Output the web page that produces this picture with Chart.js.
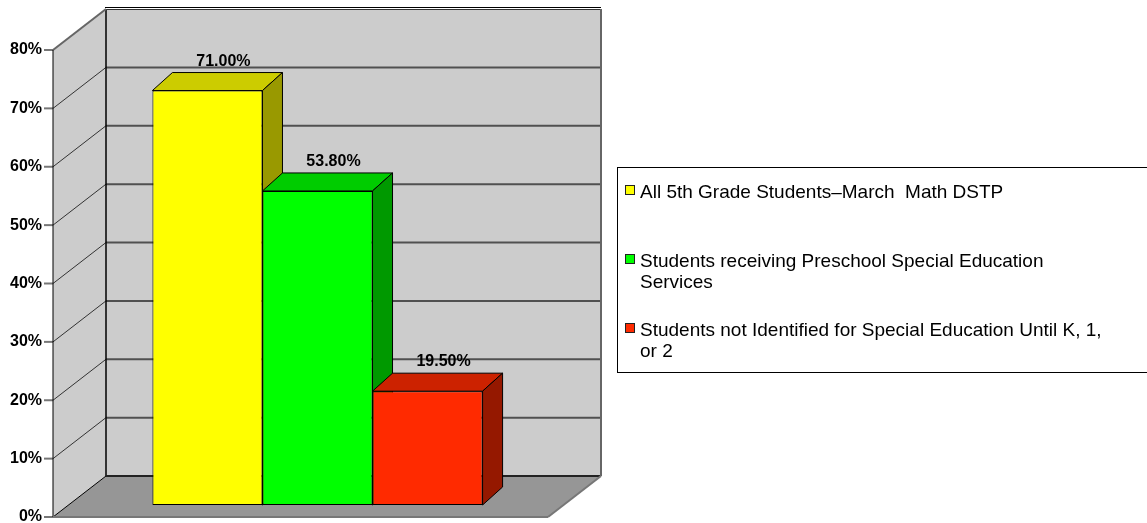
<!DOCTYPE html>
<html>
<head>
<meta charset="utf-8">
<script src="https://cdn.jsdelivr.net/npm/chart.js@4.4.1/dist/chart.umd.min.js"></script>
<style>
  html, body { margin: 0; padding: 0; background: #fff; }
  #wrap { width: 1147px; height: 523px; }
</style>
</head>
<body>
<div id="wrap"><canvas id="myChart" width="1147" height="523"></canvas></div>
<script>
// series names, one entry per line of legend text
const seriesNames = [
  ['All 5th Grade Students\u2013March  Math DSTP'],
  ['Students receiving Preschool Special Education', 'Services'],
  ['Students not Identified for Special Education Until K, 1,', 'or 2']
];
const seriesValues = [71.0, 53.8, 19.5];
const frontColors = ['#ffff00', '#00ff00', '#ff2a00'];
const topColors = ['#cccc00', '#00cc00', '#cc2200'];
const sideColors = ['#999900', '#009900', '#951800'];
const yTicks = [0, 10, 20, 30, 40, 50, 60, 70, 80];

// 3d offsets relative to the plane the bar fronts sit in
const FRONT = { x: -17, y: 12 };
const BACK = { x: 36, y: -29 };
const BAR_DEPTH = { x: 20, y: -18 };
const FONT = "'Liberation Sans', Arial, sans-serif";

function poly(ctx, pts, fill, stroke, lw) {
  ctx.beginPath();
  ctx.moveTo(pts[0][0], pts[0][1]);
  for (let i = 1; i < pts.length; i++) ctx.lineTo(pts[i][0], pts[i][1]);
  ctx.closePath();
  if (fill) { ctx.fillStyle = fill; ctx.fill(); }
  if (stroke) { ctx.strokeStyle = stroke; ctx.lineWidth = lw || 1; ctx.stroke(); }
}

function line(ctx, x1, y1, x2, y2, color, lw) {
  ctx.beginPath();
  ctx.moveTo(x1, y1);
  ctx.lineTo(x2, y2);
  ctx.strokeStyle = color;
  ctx.lineWidth = lw;
  ctx.stroke();
}

// walls, floor and gridlines
const wallsPlugin = {
  id: 'walls',
  beforeDraw(chart) {
    const ctx = chart.ctx;
    const y = chart.scales.y;
    const a = chart.chartArea;
    ctx.save();
    ctx.fillStyle = '#fff';
    ctx.fillRect(0, 0, chart.width, chart.height);

    const y0 = y.getPixelForValue(0), yMax = y.getPixelForValue(y.max);
    const fl = a.left + FRONT.x, fr = a.right + FRONT.x;
    const bl = a.left + BACK.x, br = a.right + BACK.x;

    // back wall
    poly(ctx, [[bl, yMax + BACK.y], [br, yMax + BACK.y], [br, y0 + BACK.y], [bl, y0 + BACK.y]], '#cccccc');
    // left wall
    poly(ctx, [[fl, y0 + FRONT.y], [fl, yMax + FRONT.y], [bl, yMax + BACK.y], [bl, y0 + BACK.y]], '#cccccc');
    // floor
    poly(ctx, [[fl, y0 + FRONT.y], [bl, y0 + BACK.y], [br, y0 + BACK.y], [fr, y0 + FRONT.y]], '#969696');

    yTicks.forEach(v => {
      const p = y.getPixelForValue(v);
      if (v > 0 && v < y.max) {
        line(ctx, bl, p + BACK.y, br, p + BACK.y, '#505050', 2);
        line(ctx, fl, p + FRONT.y, bl, p + BACK.y, '#333', 1);
      }
      // tick marks
      line(ctx, fl - 9, p + FRONT.y, fl, p + FRONT.y, '#777', 2);
    });

    // edges
    line(ctx, bl, yMax + BACK.y, bl, y0 + BACK.y, '#000', 1.5);
    line(ctx, bl, y0 + BACK.y, br, y0 + BACK.y, '#222', 2);
    line(ctx, fl, y0 + FRONT.y, bl, y0 + BACK.y, '#000', 1);
    line(ctx, bl - 1, yMax + BACK.y - 1.5, br, yMax + BACK.y - 1.5, '#000', 1);
    line(ctx, bl, yMax + BACK.y + 0.5, br, yMax + BACK.y + 0.5, '#333', 1);
    line(ctx, fl, yMax + FRONT.y, bl, yMax + BACK.y, '#666', 2);
    line(ctx, br, yMax + BACK.y, br, y0 + BACK.y, '#666', 2);
    line(ctx, fl, yMax + FRONT.y, fl, y0 + FRONT.y, '#000', 1);
    line(ctx, fl, y0 + FRONT.y, fr, y0 + FRONT.y, '#777', 2);
    line(ctx, fr, y0 + FRONT.y, br, y0 + BACK.y, '#777', 2);
    ctx.restore();
  }
};

// top and side faces of each bar
const barDepthPlugin = {
  id: 'barDepth',
  beforeDatasetsDraw(chart) {
    const ctx = chart.ctx;
    ctx.save();
    chart.data.datasets.forEach((ds, i) => {
      chart.getDatasetMeta(i).data.forEach(bar => {
        const x1 = bar.x - bar.width / 2, x2 = bar.x + bar.width / 2;
        const top = bar.y, base = bar.base;
        const dx = BAR_DEPTH.x, dy = BAR_DEPTH.y;
        poly(ctx, [[x1, top], [x1 + dx, top + dy], [x2 + dx, top + dy], [x2, top]], topColors[i], '#000', 1);
        poly(ctx, [[x2, top], [x2 + dx, top + dy], [x2 + dx, base + dy], [x2, base]], sideColors[i], '#000', 1);
      });
    });
    ctx.restore();
  }
};

// value labels above the bars
const valueLabelsPlugin = {
  id: 'valueLabels',
  afterDatasetsDraw(chart) {
    const ctx = chart.ctx;
    ctx.save();
    ctx.font = 'bold 16px ' + FONT;
    ctx.fillStyle = '#000';
    ctx.textAlign = 'center';
    ctx.textBaseline = 'alphabetic';
    chart.data.datasets.forEach((ds, i) => {
      chart.getDatasetMeta(i).data.forEach((bar, j) => {
        const txt = ds.data[j].toFixed(2) + '%';
        ctx.fillText(txt, bar.x + 16, bar.y + BAR_DEPTH.y - 7);
      });
    });
    ctx.restore();
  }
};

// boxed legend on the right with wrapped names
const boxLegendPlugin = {
  id: 'boxLegend',
  afterDraw(chart) {
    const ctx = chart.ctx;
    const left = 617.5, top = 167.5, bottom = 372.5;
    ctx.save();
    ctx.strokeStyle = '#000';
    ctx.lineWidth = 1;
    ctx.strokeRect(left, top, chart.width - left + 5, bottom - top);
    ctx.font = '19px ' + FONT;
    ctx.textAlign = 'left';
    ctx.textBaseline = 'alphabetic';
    seriesNames.forEach((lines, i) => {
      const base = top + 30.5 + i * 69;
      ctx.fillStyle = frontColors[i];
      ctx.fillRect(625.5, base - 12.5, 9, 9);
      ctx.strokeStyle = '#222';
      ctx.strokeRect(625.5, base - 12.5, 9, 9);
      ctx.fillStyle = '#000';
      lines.forEach((t, k) => ctx.fillText(t, 640, base + k * 21));
    });
    ctx.restore();
  }
};

const ctx = document.getElementById('myChart').getContext('2d');
new Chart(ctx, {
  type: 'bar',
  data: {
    labels: [''],
    datasets: seriesValues.map((v, i) => ({
      label: seriesNames[i].join(' '),
      data: [v],
      backgroundColor: frontColors[i],
      borderColor: '#000',
      borderWidth: 1,
      borderSkipped: false,
      categoryPercentage: 0.667,
      barPercentage: 1
    }))
  },
  options: {
    responsive: false,
    animation: false,
    layout: { padding: { left: 2, top: 38, right: 582, bottom: 18 } },
    plugins: {
      legend: { display: false },
      tooltip: { enabled: false }
    },
    scales: {
      x: { display: false },
      y: {
        min: 0,
        max: 80,
        afterFit(scale) {
          scale.width = 68;
          scale.paddingTop = 0;
          scale.paddingBottom = 0;
        },
        afterBuildTicks(scale) { scale.ticks = yTicks.map(v => ({ value: v })); },
        grid: { display: false, drawTicks: false },
        border: { display: false },
        ticks: {
          padding: 28,
          labelOffset: FRONT.y,
          color: '#000',
          font: { family: FONT, size: 16, weight: 'bold' },
          callback: v => v + '%'
        }
      }
    }
  },
  plugins: [wallsPlugin, barDepthPlugin, valueLabelsPlugin, boxLegendPlugin]
});
</script>
</body>
</html>
